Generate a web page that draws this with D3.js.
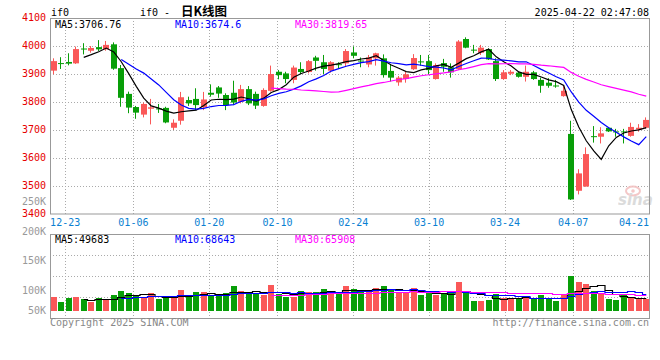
<!DOCTYPE html>
<html><head><meta charset="utf-8">
<script src="https://cdn.jsdelivr.net/npm/d3@7"></script>
<style>body{margin:0;background:#fff}svg{display:block}</style>
</head><body><svg id="c" width="660" height="360"></svg>
<script>
// ---------- DATA ----------
const dates = ["12-19","12-20","12-23","12-24","12-25","12-26","12-27","12-30","12-31",
"01-02","01-03","01-06","01-07","01-08","01-09","01-10","01-13","01-14","01-15","01-16","01-17","01-20","01-21","01-22","01-23","01-24","01-27",
"02-05","02-06","02-07","02-10","02-11","02-12","02-13","02-14","02-17","02-18","02-19","02-20","02-21","02-24","02-25","02-26","02-27","02-28",
"03-03","03-04","03-05","03-06","03-07","03-10","03-11","03-12","03-13","03-14","03-17","03-18","03-19","03-20","03-21","03-24","03-25","03-26","03-27","03-28","03-31",
"04-01","04-02","04-03","04-07","04-08","04-09","04-10","04-11","04-14","04-15","04-16","04-17","04-18","04-21"];
const open  = [3912,3939,3943,3938,3991,3983,3996,3988,4006,3921,3829,3782,3755,3776,3777,3779,3708,3733,3807,3811,
               3781,3833,3852,3825,3833,3801,3846,3829,3786,3840,3908,3902,3879,3918,3907,3959,3942,3912,3935,3938,
               3977,3948,3934,3956,3956,3911,3870,3882,3917,3945,3946,3882,3939,3924,3917,4025,3987,3976,3989,3946,
               3882,3901,3905,3890,3906,3879,3869,3859,3821,3686,3483,3498,3678,3676,3708,3695,3695,3679,3702,3708];
const high  = [3956,3960,3974,3998,4010,4000,4021,4018,4013,3932,3837,3786,3798,3811,3793,3783,3738,3836,3819,3849,
               3836,3863,3857,3831,3876,3861,3857,3837,3849,3930,3914,3908,3930,3942,3950,3965,3968,3946,3942,3989,
               3998,3959,3968,3976,3970,3934,3893,3908,3971,3968,3968,3938,3954,3938,4021,4031,4004,4004,3992,3956,
               3914,3914,3908,3930,3911,3887,3885,3879,3861,3733,3560,3638,3714,3710,3710,3704,3704,3726,3721,3745];
const low   = [3899,3918,3931,3936,3970,3976,3982,3983,3915,3783,3760,3740,3745,3720,3761,3724,3700,3719,3786,3771,
               3771,3819,3815,3771,3789,3795,3789,3775,3783,3837,3881,3867,3867,3899,3902,3912,3900,3905,3920,3926,
               3956,3924,3924,3930,3887,3873,3858,3869,3914,3930,3899,3880,3908,3887,3914,3992,3974,3968,3950,3875,
               3879,3896,3887,3873,3879,3833,3851,3851,3819,3450,3470,3498,3655,3652,3693,3676,3652,3676,3694,3704];
const close = [3946,3937,3937,3989,3989,3993,3988,4004,3919,3815,3780,3762,3793,3781,3775,3727,3726,3817,3795,3789,
               3809,3826,3830,3789,3798,3846,3795,3787,3843,3900,3896,3882,3923,3907,3946,3947,3918,3942,3933,3982,
               3965,3946,3959,3974,3896,3887,3887,3899,3957,3943,3914,3932,3926,3906,4016,3994,3985,3994,3952,3882,
               3906,3908,3890,3908,3882,3858,3858,3857,3840,3452,3545,3614,3676,3688,3695,3694,3694,3711,3708,3736];
const volume = [56000,36000,52000,56000,48000,36000,52000,44000,64000,80000,72000,64000,52000,72000,48000,52000,52000,84000,56000,76000,
                76000,64000,60000,72000,100000,80000,72000,68000,64000,104000,68000,56000,56000,80000,76000,76000,88000,80000,68000,100000,
                88000,76000,84000,92000,100000,88000,76000,72000,92000,64000,72000,64000,72000,72000,116000,72000,40000,40000,44000,68000,
                52000,48000,48000,56000,52000,64000,48000,40000,64000,141000,116000,108000,80000,68000,48000,44000,64000,56000,52000,48000];

const priceTicks = [4100,4000,3900,3800,3700,3600,3500,3400];
const volTickLabels = ["250K","200K","150K","100K","50K"];
const dateTickLabels = ["12-23","01-06","01-20","02-10","02-24","03-10","03-24","04-07","04-21"];
const maPeriods = [5,10,30];
const mainMaHeader = [3706.76, 3674.6, 3819.65];
const volMaHeader = [49683, 68643, 65908];
const chartTitle = "if0 - ";
const chartTitleCJK = "日K线图";
const symbolName = "if0";
const timestamp = "2025-04-22 02:47:08";
const copyright = "Copyright 2025 SINA.COM";
const siteUrl = "http://finance.sina.com.cn";

// ---------- LAYOUT ----------
const N = close.length;
const L = 50, R = 649;
const mainTop = 18, mainBot = 214;
const volTop = 234, volBot = 318, volBase = 311;
const UP = "#fa5858", DOWN = "#089e08";
const maColors = ["#000000","#0000ff","#ff00ff"];
const MONO = "'DejaVu Sans Mono','Liberation Mono',monospace";
const GRID = "#aaaaaa", BORDER = "#999999";

const svg = d3.select("#c");
const xb = d3.scaleBand().domain(d3.range(N)).range([L, 650]);
const cx = i => xb(i) + xb.bandwidth()/2;
const gx = d3.scaleLinear().domain([0, N-1]).range([L, R]);
const y = d3.scaleLinear().domain([3400, 4100]).range([mainBot, mainTop]);
const yv = d3.scaleLinear().domain([0, 300000]).range([volBase, volBase - 75]);

const dateIdx = dateTickLabels.map(d => dates.indexOf(d));

// ---------- GRID ----------
const g = svg.append("g");
// main horizontal grid
g.selectAll(".hg").data(priceTicks.filter(p => p < 4100 && p > 3400)).join("line")
  .attr("x1", L).attr("x2", R).attr("y1", d => Math.round(y(d)) + 0.5).attr("y2", d => Math.round(y(d)) + 0.5)
  .attr("stroke", GRID).attr("stroke-dasharray", "1,2");
// vertical grid (main + volume)
[[mainTop, mainBot],[volTop, volBot]].forEach(([t,b]) => {
  g.selectAll(null).data(dateIdx.filter(i => gx(i) < R - 1)).join("line")
    .attr("x1", d => Math.round(gx(d)) + 0.5).attr("x2", d => Math.round(gx(d)) + 0.5)
    .attr("y1", t).attr("y2", b)
    .attr("stroke", GRID).attr("stroke-dasharray", "1,2");
});
// volume horizontal grid (quarters)
[1,2,3].forEach(k => {
  const yy = Math.round(volTop + (volBot - volTop) * k / 4) + 0.5;
  g.append("line").attr("x1", L).attr("x2", R).attr("y1", yy).attr("y2", yy)
    .attr("stroke", GRID).attr("stroke-dasharray", "1,2");
});

// ---------- WATERMARK ----------
const wm = svg.append("g").attr("opacity", 0.9);
wm.append("ellipse").attr("cx", 633).attr("cy", 191).attr("rx", 7).attr("ry", 4.5)
  .attr("fill", "none").attr("stroke", "#f3c2c2").attr("stroke-width", 2);
wm.append("circle").attr("cx", 633).attr("cy", 191).attr("r", 1.8).attr("fill", "#f3c2c2");
wm.append("text").attr("x", 618).attr("y", 205).text("sina")
  .attr("font-family", "'DejaVu Sans',sans-serif").attr("font-size", 15).attr("font-weight", "bold")
  .attr("font-style", "italic").attr("fill", "#d8d8d8");

// ---------- CANDLES ----------
const cg = svg.append("g");
const candles = d3.range(N);
cg.selectAll(".wick").data(candles).join("line")
  .attr("x1", i => Math.round(cx(i) - 3) + 2.5).attr("x2", i => Math.round(cx(i) - 3) + 2.5)
  .attr("y1", i => y(high[i])).attr("y2", i => y(low[i]))
  .attr("stroke", i => close[i] > open[i] ? UP : DOWN).attr("stroke-width", 1);
cg.selectAll(".body").data(candles).join("rect")
  .attr("x", i => Math.round(cx(i) - 3)).attr("width", 6)
  .attr("y", i => y(Math.max(open[i], close[i])))
  .attr("height", i => Math.max(1, Math.abs(y(open[i]) - y(close[i]))))
  .attr("fill", i => close[i] > open[i] ? UP : DOWN);

// ---------- VOLUME ----------
svg.append("g").selectAll("rect").data(candles).join("rect")
  .attr("x", i => Math.round(cx(i) - 3)).attr("width", 6)
  .attr("y", i => Math.round(yv(volume[i])))
  .attr("height", i => volBase - Math.round(yv(volume[i])))
  .attr("fill", i => close[i] > open[i] ? UP : DOWN);

// ---------- MOVING AVERAGES ----------
function ma(arr, p) {
  return arr.map((_, i) => i < p - 1 ? null : d3.mean(arr.slice(i - p + 1, i + 1)));
}
svg.append("clipPath").attr("id", "clipMain").append("rect")
  .attr("x", L).attr("y", mainTop).attr("width", R - L).attr("height", mainBot - mainTop);
maPeriods.forEach((p, k) => {
  const m = ma(close, p);
  const line = d3.line().defined(d => d != null).x((d, i) => cx(i)).y(d => y(d));
  svg.append("path").datum(m).attr("d", line).attr("fill", "none")
    .attr("stroke", maColors[k]).attr("stroke-width", 1.2).attr("clip-path", "url(#clipMain)");
  const mv = ma(volume, p);
  const lv = d3.line().defined(d => d != null).x((d, i) => cx(i)).y(d => Math.round(yv(d)) + 0.5).curve(d3.curveStep);
  svg.append("path").datum(mv).attr("d", lv).attr("fill", "none")
    .attr("stroke", maColors[k]).attr("stroke-width", 1.2);
});

// ---------- BORDERS ----------
const b = svg.append("g").attr("fill", "none").attr("stroke", BORDER);
b.append("rect").attr("x", L + 0.5).attr("y", mainTop + 0.5).attr("width", R - L).attr("height", mainBot - mainTop - 0.5);
b.append("rect").attr("x", L + 0.5).attr("y", volTop + 0.5).attr("width", R - L).attr("height", volBot - volTop);

// ---------- TEXT ----------
const t = svg.append("g").attr("font-family", MONO).attr("font-size", 10);
// price labels
t.selectAll(".pl").data(priceTicks).join("text")
  .attr("x", 46).attr("y", d => y(d) + 3).attr("text-anchor", "end").attr("fill", "#e60000")
  .text(d => d);
// volume labels
const volLabelY = [204.5, 234.5, 264, 293.5, 313.5];
t.selectAll(".vl").data(volTickLabels).join("text")
  .attr("x", 46).attr("y", (d, i) => volLabelY[i]).attr("text-anchor", "end").attr("fill", "#999999")
  .text(d => d);
// date labels
t.selectAll(".dl").data(dateTickLabels).join("text")
  .attr("x", (d, k) => Math.min(gx(dateIdx[k]), R - 15)).attr("y", 225.5).attr("text-anchor", "middle")
  .attr("fill", "#0a7fd2").text(d => d);
// header
t.append("text").attr("x", 51).attr("y", 15.5).attr("fill", "#000").text(symbolName);
const title = t.append("text").attr("x", 140).attr("y", 15.5).attr("fill", "#000");
title.append("tspan").text(chartTitle);
title.append("tspan").attr("x", 181).attr("font-family", "'Noto Sans CJK SC',sans-serif")
  .attr("font-size", 12.5).attr("font-weight", "bold").text(chartTitleCJK);
t.append("text").attr("x", 649).attr("y", 15.5).attr("text-anchor", "end").attr("fill", "#000").text(timestamp);
// MA headers
const maX = [55, 175, 295];
maPeriods.forEach((p, k) => {
  t.append("text").attr("x", maX[k]).attr("y", 27.5).attr("fill", maColors[k]).text("MA" + p + ":" + mainMaHeader[k]);
  t.append("text").attr("x", maX[k]).attr("y", 242.5).attr("fill", maColors[k]).text("MA" + p + ":" + volMaHeader[k]);
});
// footer
t.append("text").attr("x", 50).attr("y", 326).attr("fill", "#888").text(copyright);
t.append("text").attr("x", 649).attr("y", 326).attr("text-anchor", "end").attr("fill", "#888").text(siteUrl);
</script></body></html>
